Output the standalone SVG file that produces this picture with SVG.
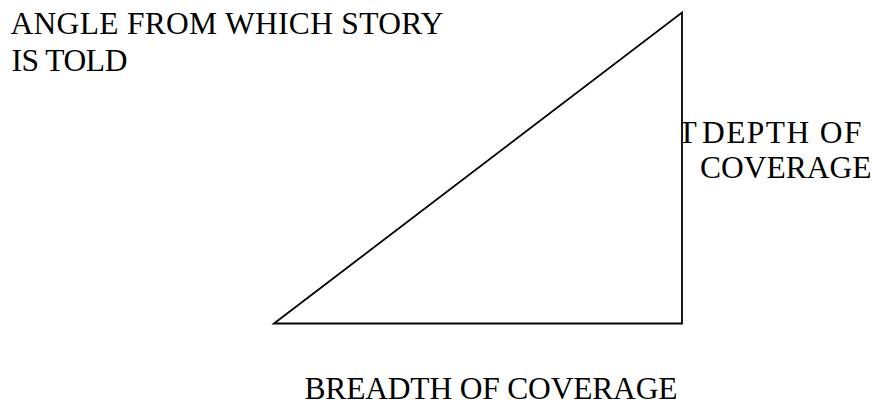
<svg xmlns="http://www.w3.org/2000/svg" width="874" height="404" viewBox="0 0 874 404">
<defs>
<style type="text/css">
.t{font-family:'Liberation Serif','Times New Roman',serif;font-size:31.5px;fill:#000}
.tri{fill:#fff;stroke:#000;stroke-width:1.8;stroke-linejoin:miter}
</style>
</defs>
<rect width="874" height="404" fill="#fff"/>
<g id="depth-label" class="t">
<text x="677.5" y="143.3">T</text>
<text x="702" y="143.3" textLength="159.5" lengthAdjust="spacing">DEPTH OF</text>
<text x="700" y="178.3">COVERAGE</text>
</g>
<g id="triangle">
<polygon class="tri" points="274,323.5 682,12.5 682,323.5"/>
</g>
<g id="angle-label" class="t">
<text x="10.5" y="33.5" textLength="433" lengthAdjust="spacing">ANGLE FROM WHICH STORY</text>
<text x="11.4" y="70.5" textLength="116" lengthAdjust="spacing">IS TOLD</text>
</g>
<g id="breadth-label" class="t">
<text x="304.5" y="399" textLength="373" lengthAdjust="spacing">BREADTH OF COVERAGE</text>
</g>
</svg>
